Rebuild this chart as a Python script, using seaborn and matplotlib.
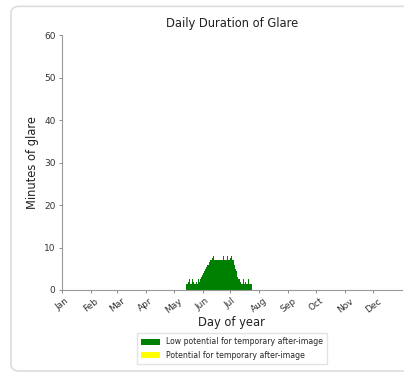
import numpy as np
import pandas as pd
import matplotlib
matplotlib.use("Agg")
import matplotlib.pyplot as plt
from matplotlib.patches import Patch, FancyBboxPatch
import seaborn as sns

# ---- data ----
month_labels = ["Jan", "Feb", "Mar", "Apr", "May", "Jun",
                "Jul", "Aug", "Sep", "Oct", "Nov", "Dec"]
month_start_days = [0, 31, 59, 90, 120, 151, 181, 212, 243, 273, 304, 334]

glare_days = list(range(134, 205))
low_potential_minutes = [
    1.5, 1.5, 2, 2.5, 1.5, 1.5, 2.5, 2, 1.5, 1.5, 2.5, 2, 1.5, 2.5, 2, 2.5, 3, 3.5,
    4, 4.5, 5, 5.5, 6, 6, 6.5,
    7, 7, 7, 7.5, 8, 7, 7, 7, 7, 7, 7, 7, 7, 7, 8, 7, 7, 7, 7, 8, 7, 7, 7.5, 8, 7, 7,
    6, 5, 4.5, 4, 3, 2.5,
    2.5, 2, 1.5, 1.5, 2.5, 1.5, 2, 1.5, 1.5, 2.5, 1.5, 1.5, 1.5, 1.5,
]
potential_minutes = [0] * len(glare_days)

series_names = ["Low potential for temporary after-image",
                "Potential for temporary after-image"]
series_colors = ["green", "yellow"]

df = pd.DataFrame({"day": glare_days,
                   "low": low_potential_minutes,
                   "pot": potential_minutes})

sns.set_style("white")
plt.rcParams["font.family"] = ["DejaVu Sans"]

fig = plt.figure(figsize=(4.04, 3.74), dpi=100)
ax = fig.add_axes([0.153, 0.2246, 0.842, 0.6814])

sns.barplot(data=df, x="day", y="low", native_scale=True, width=1,
            color=series_colors[0], saturation=1, linewidth=0, ax=ax)
sns.barplot(data=df, x="day", y="pot", native_scale=True, width=1,
            color=series_colors[1], saturation=1, linewidth=0, ax=ax)

ax.set_xlim(0, 365)
ax.set_ylim(0, 60)
ax.set_yticks([0, 10, 20, 30, 40, 50, 60])
ax.set_xticks(month_start_days)
ax.set_xticklabels(month_labels, rotation=38, ha="center")
ax.tick_params(axis="both", labelsize=6.5, length=2.5, width=0.6,
               color="#777777", labelcolor="#333333", pad=2, bottom=True, left=True)

for s in ["top", "right"]:
    ax.spines[s].set_visible(False)
for s in ["left", "bottom"]:
    ax.spines[s].set_color("#999999")
    ax.spines[s].set_linewidth(0.8)

ax.set_title("Daily Duration of Glare", fontsize=8.3, color="#222222", pad=6)
ax.set_xlabel("Day of year", fontsize=8.3, color="#222222", labelpad=1)
ax.set_ylabel("Minutes of glare", fontsize=8.3, color="#222222", labelpad=4)

handles = [Patch(facecolor=c, edgecolor="none") for c in series_colors]
ax.legend(handles, series_names, loc="upper center",
          bbox_to_anchor=(0.5, -0.155), fontsize=5.6, frameon=True,
          edgecolor="#dddddd", fancybox=False, handlelength=2.5,
          handleheight=0.8, borderpad=0.5, labelspacing=0.6)

border = FancyBboxPatch((0.027, 0.008), 1.0, 0.975,
                        boxstyle="round,pad=0,rounding_size=0.02",
                        transform=fig.transFigure, facecolor="none",
                        edgecolor="#dddddd", linewidth=1.2)
fig.patches.append(border)

fig.savefig("out.png", dpi=100)
